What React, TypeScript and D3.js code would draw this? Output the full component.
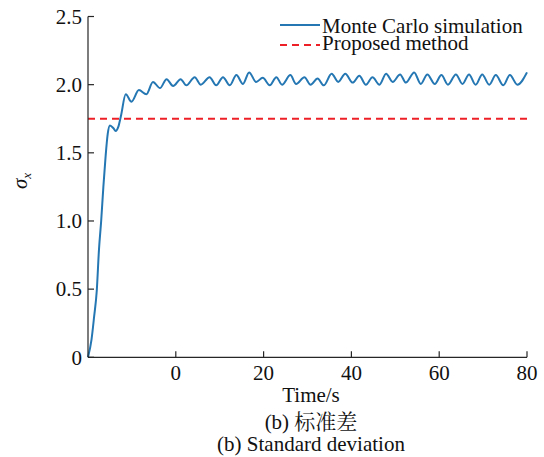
import React from "react";
import * as d3 from "d3";

// Monte Carlo standard deviation over time (rise, then oscillation about ~2.03)
const timeS = [
  -20, -19.2, -18.6, -18.0, -17.5, -17.0, -16.5, -16.0, -15.5, -15.0, -14.2, -13.7, -13.1, -12.5,
  -11.4, -10.1, -8.4, -6.7, -5.2, -3.6, -2.1, -0.6, 1.1, 2.4, 4.3, 5.7, 7.7, 9.2, 10.75, 12.3,
  13.8, 15.3, 16.7, 18.3, 19.8, 21.4, 22.9, 24.2, 26.1, 27.4, 29.3, 30.7, 32.3, 33.7, 35.5, 37.0,
  38.6, 40.3, 41.8, 43.3, 44.8, 46.4, 47.9, 49.4, 51.1, 52.4, 54.3, 55.8, 57.3, 59.0, 60.5, 62.0,
  63.8, 65.3, 66.8, 68.3, 69.8, 71.4, 72.9, 74.6, 76.1, 77.8, 80,
];
const sigmaMC = [
  0, 0.13, 0.3, 0.49, 0.79, 1.0, 1.25, 1.47, 1.64, 1.7, 1.68, 1.66, 1.69, 1.77,
  1.93, 1.875, 1.96, 1.93, 2.02, 1.975, 2.04, 1.99, 2.04, 1.995, 2.055, 2.0, 2.055, 1.995, 2.055, 1.995,
  2.07, 2.005, 2.09, 2.02, 2.05, 1.995, 2.055, 2.0, 2.07, 2.005, 2.055, 2.0, 2.045, 1.995, 2.08, 2.02,
  2.08, 2.015, 2.065, 2.0, 2.055, 2.0, 2.08, 2.02, 2.075, 2.015, 2.09, 2.005, 2.075, 2.005, 2.07, 2.0,
  2.075, 2.005, 2.075, 2.0, 2.075, 2.0, 2.07, 1.995, 2.07, 2.0, 2.09,
];
// Proposed method (constant)
const proposedSigma = 1.75;

const xDomain = [-20, 80];
const yDomain = [0, 2.5];
const xTicks = [0, 20, 40, 60, 80];
const yTicks = [0, 0.5, 1.0, 1.5, 2.0, 2.5];
const legendLabels = ["Monte Carlo simulation", "Proposed method"];

const W = 544;
const H = 457;
const FONT = "'Liberation Serif', 'Times New Roman', serif";
const CJK = "'Liberation Serif', 'Noto Serif CJK SC', 'Noto Sans CJK SC', serif";
const BLUE = "#2477b3";
const RED = "#ee2027";
const AXIS = "#262626";

export default function App() {
  const x = d3.scaleLinear().domain(xDomain).range([88, 527]);
  const y = d3.scaleLinear().domain(yDomain).range([357.3, 16.5]);

  const pts: [number, number][] = timeS.map((t, i) => [t, sigmaMC[i]]);
  const line = d3
    .line<[number, number]>()
    .x((d) => x(d[0]))
    .y((d) => y(d[1]))
    .curve(d3.curveMonotoneX);

  const x0 = x(xDomain[0]);
  const x1 = x(xDomain[1]);
  const yb = y(0);
  const yt = y(2.5);
  const cx = 311;

  return (
    <svg
      width={W}
      height={H}
      viewBox={`0 0 ${W} ${H}`}
      style={{ position: "absolute", left: 0, top: 0, background: "#fff" }}
      fontFamily={FONT}
    >
      <rect width={W} height={H} fill="#fff" />

      {/* proposed-method level */}
      <line
        x1={x0}
        x2={x1}
        y1={y(proposedSigma)}
        y2={y(proposedSigma)}
        stroke={RED}
        strokeWidth={2}
        strokeDasharray="7,5"
      />

      {/* Monte Carlo curve */}
      <path d={line(pts) || ""} fill="none" stroke={BLUE} strokeWidth={2} strokeLinejoin="round" />

      {/* axes */}
      <line x1={x0} x2={x0} y1={yt} y2={yb} stroke={AXIS} strokeWidth={1.2} />
      <line x1={x0} x2={x1} y1={yb} y2={yb} stroke={AXIS} strokeWidth={1.2} />

      {yTicks.map((v) => (
        <g key={`y${v}`}>
          <line x1={x0} x2={x0 + 6} y1={y(v)} y2={y(v)} stroke={AXIS} strokeWidth={1.2} />
          <text x={82} y={y(v)} dy="0.35em" textAnchor="end" fontSize={21} fill="#111">
            {v === 0 ? "0" : v.toFixed(1)}
          </text>
        </g>
      ))}

      {xTicks.map((v) => (
        <g key={`x${v}`}>
          <line x1={x(v)} x2={x(v)} y1={yb} y2={yb - 6} stroke={AXIS} strokeWidth={1.2} />
          <text x={x(v)} y={380} textAnchor="middle" fontSize={21} fill="#111">
            {v}
          </text>
        </g>
      ))}

      {/* axis labels */}
      <text x={cx} y={401.5} textAnchor="middle" fontSize={21} fill="#111">
        Time/s
      </text>
      <text
        transform={`translate(27,181) rotate(-90)`}
        textAnchor="middle"
        fontSize={21}
        fill="#111"
      >
        <tspan fontStyle="italic">σ</tspan>
        <tspan fontStyle="italic" fontSize={13} dy={4}>x</tspan>
      </text>

      {/* captions */}
      <text x={cx} y={429} textAnchor="middle" fontSize={21} fill="#111" fontFamily={CJK}>
        (b) 标准差
      </text>
      <text x={cx} y={451} textAnchor="middle" fontSize={21} fill="#111">
        (b) Standard deviation
      </text>

      {/* legend */}
      <line x1={280} x2={320} y1={25} y2={25} stroke={BLUE} strokeWidth={2} />
      <text x={322} y={33} fontSize={21} fill="#111">
        {legendLabels[0]}
      </text>
      <line x1={280} x2={320} y1={45} y2={45} stroke={RED} strokeWidth={2} strokeDasharray="7,5" />
      <text x={322} y={50} fontSize={21} fill="#111">
        {legendLabels[1]}
      </text>
    </svg>
  );
}
